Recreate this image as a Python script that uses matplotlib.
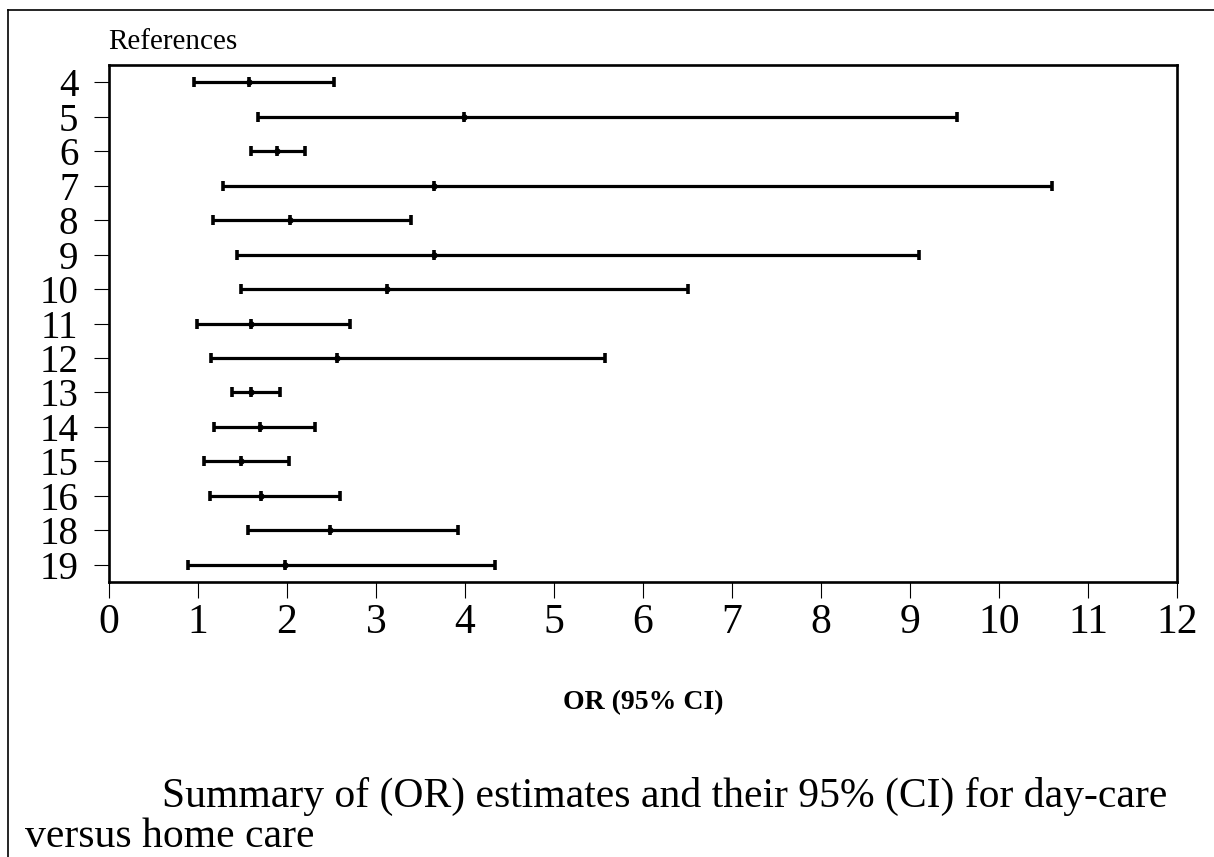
import numpy as np
import matplotlib
matplotlib.use("Agg")
import matplotlib.pyplot as plt
from matplotlib.lines import Line2D

plt.rcParams['font.family'] = ['Liberation Serif', 'DejaVu Serif']

# study references and their odds ratios with 95% confidence limits
refs = ['4', '5', '6', '7', '8', '9', '10', '11', '12', '13', '14', '15', '16', '18', '19']
or_est = [1.57, 3.99, 1.89, 3.65, 2.03, 3.65, 3.12, 1.60, 2.56, 1.60, 1.70, 1.48, 1.71, 2.48, 1.98]
ci_low = [0.95, 1.67, 1.60, 1.28, 1.17, 1.44, 1.48, 0.99, 1.15, 1.38, 1.18, 1.07, 1.13, 1.56, 0.89]
ci_high = [2.53, 9.53, 2.20, 10.60, 3.39, 9.10, 6.51, 2.71, 5.57, 1.92, 2.31, 2.02, 2.60, 3.92, 4.34]
x_ticks = list(range(0, 13))

W, H = 1214, 857
fig = plt.figure(figsize=(W / 100, H / 100), dpi=100)
ax = fig.add_axes([109 / W, 1 - 582 / H, (1177 - 109) / W, (582 - 65) / H])

ypos = np.arange(len(refs))
for y, lo, mid, hi in zip(ypos, ci_low, or_est, ci_high):
    ax.plot([lo, hi], [y, y], color='black', lw=2.3, solid_capstyle='butt')
    ax.plot([lo, mid, hi], [y, y, y], ls='none', marker='|', ms=7, mew=2.6, color='black')
    ax.plot([mid], [y], ls='none', marker='o', ms=3.5, color='black')

ax.set_xlim(0, 12)
ax.set_ylim(len(refs) - 0.5, -0.5)
ax.set_xticks(x_ticks)
ax.set_xticklabels([str(t) for t in x_ticks], fontsize=30)
ax.set_yticks(ypos)
ax.set_yticklabels(refs, fontsize=28)
ax.tick_params(axis='x', length=11.5, width=0.8, pad=4)
ax.tick_params(axis='y', length=11, width=0.8, pad=11)
for s in ax.spines.values():
    s.set_linewidth(1.9)

fig.text(108 / W, 1 - 49 / H, 'References', fontsize=21, ha='left', va='baseline')
fig.text(643 / W, 1 - 709 / H, 'OR (95% CI)', fontsize=20, fontweight='bold',
         ha='center', va='baseline')
fig.text(162 / W, 1 - 807 / H, 'Summary of (OR) estimates and their 95% (CI) for day-care',
         fontsize=30, ha='left', va='baseline')
fig.text(25 / W, 1 - 847 / H, 'versus home care', fontsize=30, ha='left', va='baseline')

# page frame along the top and left edges
fig.add_artist(Line2D([8 / W, 1], [1 - 10 / H, 1 - 10 / H], color='black', lw=1.2))
fig.add_artist(Line2D([8 / W, 8 / W], [0, 1 - 10 / H], color='black', lw=1.2))

fig.savefig('out.png', dpi=100)
